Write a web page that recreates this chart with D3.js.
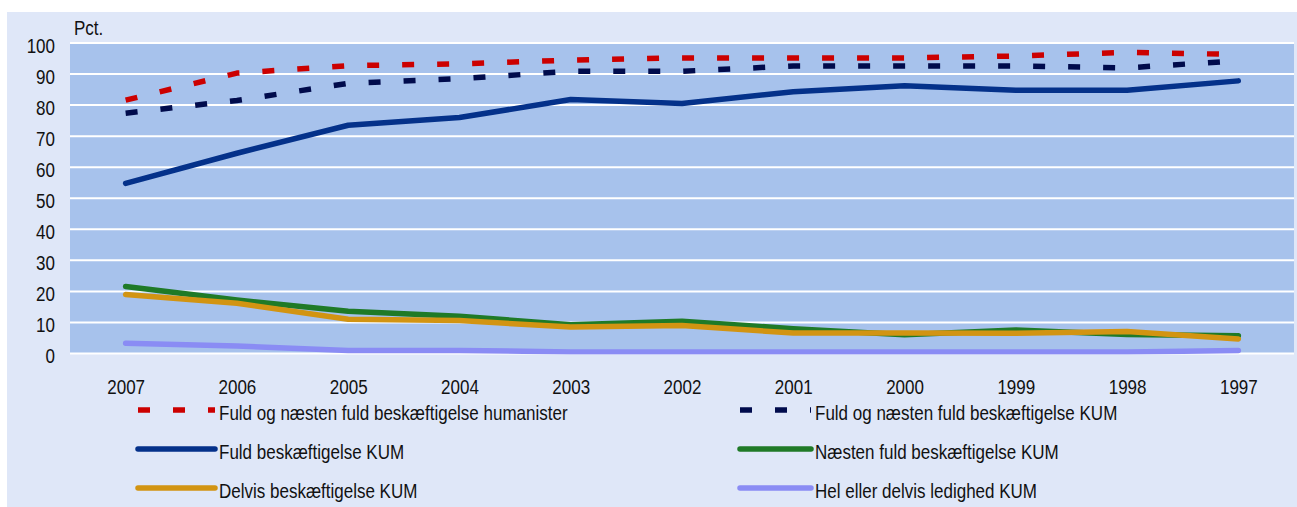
<!DOCTYPE html>
<html>
<head>
<meta charset="utf-8">
<script src="https://cdn.jsdelivr.net/npm/d3@7"></script>
<style>
	html, body { margin: 0; padding: 0; background: #ffffff; }
	svg text { font-family: "Liberation Sans", Arial, sans-serif; fill: #111111; }
</style>
</head>
<body>
<svg id="chart" width="1297" height="507"></svg>
<script>
// categories on the x axis (left to right)
var years = ["2007", "2006", "2005", "2004", "2003", "2002", "2001", "2000", "1999", "1998", "1997"];

// series values, in pct.
var fuldNaestenHumanister = [81.6, 90.3, 92.7, 93.3, 94.5, 95.2, 95.2, 95.2, 95.8, 97.0, 96.3];
var fuldNaestenKum = [77.4, 81.5, 87.0, 88.5, 90.9, 90.9, 92.6, 92.6, 92.6, 92.0, 94.3];
var fuldKum = [54.8, 64.5, 73.5, 76.0, 81.8, 80.5, 84.3, 86.2, 84.8, 84.8, 87.8];
var naestenFuldKum = [21.6, 17.2, 13.6, 12.0, 9.3, 10.4, 8.0, 6.0, 7.6, 6.1, 5.7];
var delvisKum = [19.0, 16.2, 11.0, 10.6, 8.5, 9.0, 6.6, 6.6, 6.5, 7.1, 4.7];
var ledighedKum = [3.3, 2.4, 1.0, 1.0, 0.5, 0.5, 0.5, 0.5, 0.5, 0.5, 1.0];

var yTicks = [0, 10, 20, 30, 40, 50, 60, 70, 80, 90, 100];

// series definitions; order = drawing order
var series = [
	{name: "Hel eller delvis ledighed KUM", values: ledighedKum, color: "#8a8cf4", dash: null},
	{name: "Næsten fuld beskæftigelse KUM", values: naestenFuldKum, color: "#1f7a27", dash: null},
	{name: "Delvis beskæftigelse KUM", values: delvisKum, color: "#d29412", dash: null},
	{name: "Fuld beskæftigelse KUM", values: fuldKum, color: "#04318a", dash: null},
	{name: "Fuld og næsten fuld beskæftigelse KUM", values: fuldNaestenKum, color: "#000b4c", dash: "12,23"},
	{name: "Fuld og næsten fuld beskæftigelse humanister", values: fuldNaestenHumanister, color: "#cc0000", dash: "12,23"}
];

// legend layout: [name, column, row]
var legendOrder = [
	["Fuld og næsten fuld beskæftigelse humanister", 0, 0],
	["Fuld og næsten fuld beskæftigelse KUM", 1, 0],
	["Fuld beskæftigelse KUM", 0, 1],
	["Næsten fuld beskæftigelse KUM", 1, 1],
	["Delvis beskæftigelse KUM", 0, 2],
	["Hel eller delvis ledighed KUM", 1, 2]
];

var plot = {left: 70, right: 1294, top: 43, bottom: 353.5};
var fontSize = 21;
// the original font is a narrow one; squeeze the regular font horizontally
var narrow = 0.81;
var strokeWidth = 5.5;

var svg = d3.select("#chart");

// outer panel
svg.append("rect")
	.attr("x", 7)
	.attr("y", 12)
	.attr("width", 1290)
	.attr("height", 495)
	.attr("fill", "#dfe7f8");

// plot area
svg.append("rect")
	.attr("x", plot.left)
	.attr("y", plot.top)
	.attr("width", plot.right - plot.left)
	.attr("height", plot.bottom - plot.top)
	.attr("fill", "#a7c2ec");

var x = d3.scalePoint()
	.domain(years)
	.range([plot.left, plot.right])
	.padding(0.5);

var y = d3.scaleLinear()
	.domain([0, 100])
	.range([plot.bottom, plot.top]);

// gridlines
svg.append("g")
	.selectAll("line")
	.data(yTicks)
	.join("line")
	.attr("x1", plot.left)
	.attr("x2", plot.right)
	.attr("y1", function (d) { return y(d); })
	.attr("y2", function (d) { return y(d); })
	.attr("stroke", "#ffffff")
	.attr("stroke-width", 2);

// squeezed text at (tx, ty)
var narrowText = function (parent, tx, ty, label) {
	return parent.append("text")
		.attr("transform", "translate(" + tx + "," + ty + ") scale(" + narrow + ",1)")
		.attr("font-size", fontSize + "px")
		.text(label);
};

// y axis labels
var yAxis = d3.axisLeft(y).tickValues(yTicks).tickSize(0).tickPadding(0);
var gY = svg.append("g")
	.attr("transform", "translate(55,2.5)")
	.call(yAxis);
gY.select(".domain").remove();
gY.selectAll("text")
	.attr("font-size", fontSize + "px")
	.attr("font-family", null)
	.attr("fill", "#111111")
	.attr("transform", "scale(" + narrow + ",1)");

// x axis labels
var xAxis = d3.axisBottom(x).tickSize(0).tickPadding(0);
var gX = svg.append("g")
	.attr("transform", "translate(0,379)")
	.call(xAxis);
gX.select(".domain").remove();
gX.selectAll("text")
	.attr("font-size", fontSize + "px")
	.attr("font-family", null)
	.attr("fill", "#111111")
	.attr("transform", "scale(" + narrow + ",1)");

narrowText(svg, 74, 35, "Pct.");

// lines, clipped to the plot area
svg.append("clipPath")
	.attr("id", "plotclip")
	.append("rect")
	.attr("x", plot.left)
	.attr("y", plot.top)
	.attr("width", plot.right - plot.left)
	.attr("height", plot.bottom - plot.top + 1);

var line = d3.line()
	.x(function (d, i) { return x(years[i]); })
	.y(function (d) { return y(d); });

var gLines = svg.append("g").attr("clip-path", "url(#plotclip)");
series.forEach(function (s) {
	gLines.append("path")
		.attr("d", line(s.values))
		.attr("fill", "none")
		.attr("stroke", s.color)
		.attr("stroke-width", strokeWidth)
		.attr("stroke-linecap", s.dash ? "butt" : "round")
		.attr("stroke-linejoin", "round")
		.attr("stroke-dasharray", s.dash);
});

// legend
var legendCols = [138, 740];
var sampleLengths = [77, 71];
var legendRows = [410, 449, 488];

var gLegend = svg.append("g").attr("class", "legend");
legendOrder.forEach(function (entry) {
	var s = series.find(function (d) { return d.name === entry[0]; });
	var lx = legendCols[entry[1]];
	var len = sampleLengths[entry[1]];
	var ly = legendRows[entry[2]];

	gLegend.append("line")
		.attr("x1", lx)
		.attr("x2", lx + len)
		.attr("y1", ly)
		.attr("y2", ly)
		.attr("stroke", s.color)
		.attr("stroke-width", strokeWidth)
		.attr("stroke-linecap", s.dash ? "butt" : "round")
		.attr("stroke-dasharray", s.dash);

	narrowText(gLegend, lx + len + 4, ly + 10, s.name);
});
</script>
</body>
</html>
